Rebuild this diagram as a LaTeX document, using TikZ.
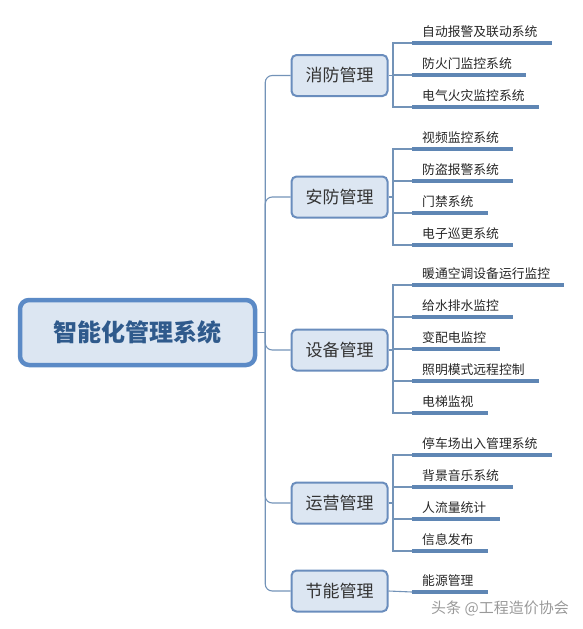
\documentclass[tikz,border=0pt]{standalone}
\usepackage{fontspec}
\newfontfamily\cjk{Noto Sans CJK SC}
\usepackage{xcolor}
\usetikzlibrary{positioning}

\definecolor{boxfill}{HTML}{DCE6F2}
\definecolor{rootline}{HTML}{5B8AC6}
\definecolor{rootText}{HTML}{2F5A8C}
\definecolor{topicline}{HTML}{6A8DBD}
\definecolor{linkline}{HTML}{7393B8}
\definecolor{ulinecol}{HTML}{5F86B4}

\begin{document}
\begin{tikzpicture}[x=1pt,y=-1pt,
  root/.style={draw=rootline, line width=4.5pt, fill=boxfill, rounded corners=9pt,
    minimum width=235pt, minimum height=65pt, text=rootText,
    font=\cjk\bfseries\fontsize{24}{28}\selectfont},
  topic/.style={draw=topicline, line width=2pt, fill=boxfill, rounded corners=5pt,
    minimum width=96pt, minimum height=41pt, text=black!80,
    font=\cjk\fontsize{17}{20}\selectfont},
  item/.style={anchor=south west, inner xsep=10pt, inner ysep=5pt, text=black!85,
    font=\cjk\fontsize{12.8}{15}\selectfont},
  branch/.style={draw=linkline, line width=1.1pt, rounded corners=7pt},
  link/.style={draw=linkline, line width=1.1pt},
  uline/.style={draw=ulinecol, line width=3.4pt}]
  \useasboundingbox (0,0) rectangle (582,629);

  % centre and main topics
  \node[root]  (sys)  at (137.5,332.5) {智能化管理系统};
  \node[topic] (fire) at (339.5,75.5)  {消防管理};
  \node[topic] (sec)  at (339.5,197)   {安防管理};
  \node[topic] (equ)  at (339.5,350)   {设备管理};
  \node[topic] (ops)  at (339.5,503)   {运营管理};
  \node[topic] (eng)  at (339.5,591)   {节能管理};

  \coordinate[right=8pt of sys.east] (hub);
  \draw[link] (sys.east) -- (hub);
  \draw[branch] (hub) |- (fire.west);
  \draw[branch] (hub) |- (sec.west);
  \draw[branch] (hub) |- (equ.west);
  \draw[branch] (hub) |- (ops.west);
  \draw[branch] (hub) |- (eng.west);

  % fire
  \node[item] (f1) at (412,43)  {自动报警及联动系统};
  \node[item] (f2) at (412,75)  {防火门监控系统};
  \node[item] (f3) at (412,107) {电气火灾监控系统};
  % security
  \node[item] (s1) at (412,149) {视频监控系统};
  \node[item] (s2) at (412,181) {防盗报警系统};
  \node[item] (s3) at (412,213) {门禁系统};
  \node[item] (s4) at (412,245) {电子巡更系统};
  % equipment
  \node[item] (e1) at (412,285) {暖通空调设备运行监控};
  \node[item] (e2) at (412,317) {给水排水监控};
  \node[item] (e3) at (412,349) {变配电监控};
  \node[item] (e4) at (412,381) {照明模式远程控制};
  \node[item] (e5) at (412,413) {电梯监视};
  % operation
  \node[item] (o1) at (412,455) {停车场出入管理系统};
  \node[item] (o2) at (412,487) {背景音乐系统};
  \node[item] (o3) at (412,519) {人流量统计};
  \node[item] (o4) at (412,551) {信息发布};
  % energy
  \node[item] (n1) at (412,592) {能源管理};

  % sub branches
  \coordinate (fhub) at (393,75.5);
  \coordinate (shub) at (393,197);
  \coordinate (ehub) at (393,350);
  \coordinate (ohub) at (393,503);
  \draw[link] (fire.east) -- (fhub);
  \draw[link] (sec.east) -- (shub);
  \draw[link] (equ.east) -- (ehub);
  \draw[link] (ops.east) -- (ohub);
  \foreach \h/\i in {fhub/f1,fhub/f2,fhub/f3,shub/s1,shub/s2,shub/s3,shub/s4,
    ehub/e1,ehub/e2,ehub/e3,ehub/e4,ehub/e5,ohub/o1,ohub/o2,ohub/o3,ohub/o4}
    \draw[link] (\h) |- (\i.south west);
  \draw[link] (eng.east) -- (n1.south west);

  \foreach \i in {f1,f2,f3,s1,s2,s3,s4,e1,e2,e3,e4,e5,o1,o2,o3,o4,n1}
    \draw[uline] (\i.south west) -- ([xshift=4pt]\i.south east);

  % watermark
  \node[text=black!40, font=\cjk\fontsize{15}{18}\selectfont] (wm) at (500,608) {头条 @工程造价协会};
\end{tikzpicture}
\end{document}
